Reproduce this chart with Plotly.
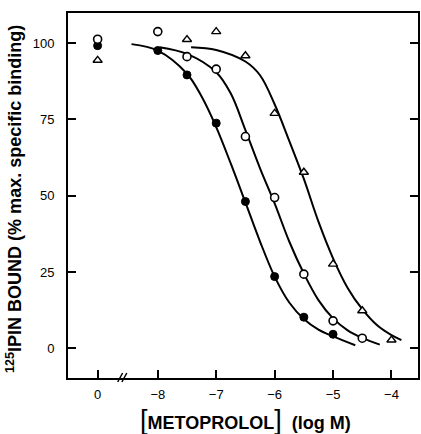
import plotly.graph_objects as go

# ---- data ----
x_tick_vals = [-9.03, -8, -7, -6, -5, -4]
x_tick_text = ["0", "−8", "−7", "−6", "−5", "−4"]
y_tick_vals = [0, 25, 50, 75, 100]

# filled circles
filled_x = [-9.03, -8, -7.5, -7, -6.5, -6, -5.5, -5]
filled_y = [99.2, 97.6, 89.6, 73.8, 48.1, 23.5, 10.2, 4.6]
# open circles
open_x = [-9.03, -8, -7.5, -7, -6.5, -6, -5.5, -5, -4.5]
open_y = [101.3, 103.8, 95.6, 91.5, 69.4, 49.4, 24.3, 9.0, 3.3]
# open triangles
tri_x = [-9.03, -7.5, -7, -6.5, -6, -5.5, -5, -4.5, -4]
tri_y = [94.4, 101.2, 103.8, 95.9, 77.0, 57.7, 27.6, 12.3, 2.7]

# fitted curves
c1_x = [-8.45, -8.0, -7.5, -7.25, -7.0, -6.75, -6.5, -6.25, -6.0, -5.75, -5.5, -5.25, -5.0, -4.62]
c1_y = [99.7, 97.6, 90.0, 82.5, 72.5, 60.5, 47.8, 35.0, 23.5, 15.0, 9.6, 6.1, 3.9, 1.0]
c2_x = [-7.97, -7.5, -7.0, -6.75, -6.5, -6.25, -6.0, -5.75, -5.5, -5.25, -5.0, -4.75, -4.5, -4.2]
c2_y = [98.7, 96.5, 90.5, 83.5, 71.5, 59.0, 47.5, 35.0, 24.5, 15.8, 9.8, 5.9, 3.4, 1.2]
c3_x = [-7.43, -7.0, -6.5, -6.25, -6.0, -5.75, -5.5, -5.25, -5.0, -4.75, -4.5, -4.25, -4.0, -3.83]
c3_y = [98.7, 97.8, 94.0, 89.5, 80.0, 68.0, 55.5, 41.5, 29.5, 19.8, 12.8, 7.6, 4.3, 2.7]

fig = go.Figure()
line_style = dict(color="black", width=2, shape="spline", smoothing=1)
for cx, cy in [(c1_x, c1_y), (c2_x, c2_y), (c3_x, c3_y)]:
    fig.add_trace(go.Scatter(x=cx, y=cy, mode="lines", line=line_style,
                             hoverinfo="skip", showlegend=False))

fig.add_trace(go.Scatter(x=filled_x, y=filled_y, mode="markers",
                         marker=dict(symbol="circle", size=8, color="black",
                                     line=dict(color="black", width=1)),
                         showlegend=False))
fig.add_trace(go.Scatter(x=open_x, y=open_y, mode="markers",
                         marker=dict(symbol="circle", size=8, color="white",
                                     line=dict(color="black", width=1.6)),
                         showlegend=False))
fig.add_trace(go.Scatter(x=tri_x, y=tri_y, mode="markers",
                         marker=dict(symbol="triangle-up", size=8, color="white",
                                     line=dict(color="black", width=1.4)),
                         showlegend=False))

tick_font = dict(family="Liberation Sans, Arial, sans-serif", size=13, color="black")

fig.update_layout(
    width=421, height=434,
    margin=dict(l=68, r=1, t=13, b=56),
    paper_bgcolor="white", plot_bgcolor="white",
    xaxis=dict(range=[-9.537, -3.546], tickmode="array", tickvals=x_tick_vals,
               ticktext=x_tick_text, ticks="inside", ticklen=8, tickwidth=1.5,
               tickcolor="black", showline=True, linecolor="black", linewidth=2,
               mirror=True, showgrid=False, zeroline=False, tickfont=tick_font,
               ticklabelstandoff=3),
    yaxis=dict(range=[-9.74, 109.9], tickmode="array", tickvals=y_tick_vals,
               ticks="inside", ticklen=8, tickwidth=1.5, tickcolor="black",
               showline=True, linecolor="black", linewidth=2, mirror="ticks",
               showgrid=False, zeroline=False, tickfont=tick_font,
               ticklabelstandoff=9),
    annotations=[
        dict(text="<sup>125</sup>IPIN BOUND (% max. specific binding)",
             xref="paper", yref="paper", x=-0.155, y=0.49, textangle=-90,
             showarrow=False, xanchor="center", yanchor="middle",
             font=dict(family="Liberation Sans, Arial, sans-serif", size=18,
                       color="black", weight="bold")),
        dict(text="<span style='font-size:27px;font-weight:normal'>[</span>METOPROLOL"
                  "<span style='font-size:27px;font-weight:normal'>]</span>\u00a0\u00a0(log M)",
             xref="paper", yref="paper", x=0.506, y=-0.115,
             showarrow=False, xanchor="center", yanchor="middle",
             font=dict(family="Liberation Sans, Arial, sans-serif", size=18,
                       color="black", weight="bold")),
    ],
    shapes=[
        dict(type="line", xref="paper", yref="paper", x0=0.142, y0=-0.011,
             x1=0.156, y1=0.0137, line=dict(color="black", width=1.5)),
        dict(type="line", xref="paper", yref="paper", x0=0.154, y0=-0.011,
             x1=0.168, y1=0.0137, line=dict(color="black", width=1.5)),
    ],
)

fig.write_html("out.html", config={"displayModeBar": False},
               post_script="document.body.style.margin='0';document.body.style.overflow='hidden';")
